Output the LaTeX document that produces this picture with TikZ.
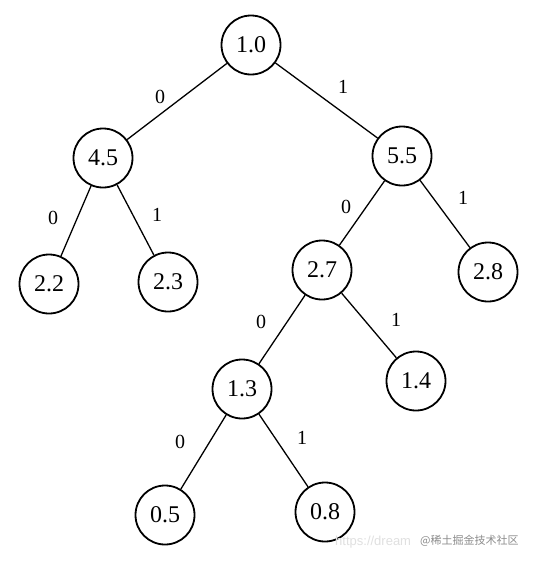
\documentclass[tikz,border=0pt]{standalone}
\usepackage{fontspec}
\setmainfont{Liberation Serif}
\newfontfamily\cjk{Noto Sans CJK SC}
\newfontfamily\wsans{Liberation Sans}
\begin{document}
\begin{tikzpicture}[x=1pt,y=-1pt,
  tnode/.style={circle,draw,line width=1.8pt,minimum size=59pt,inner sep=0pt,font=\fontsize{24}{26}\selectfont},
  edge/.style={line width=1.3pt},
  elab/.style={font=\fontsize{20}{22}\selectfont,inner sep=0pt}]
\useasboundingbox (0,0) rectangle (534,562);
\fill[white] (0,0) rectangle (534,562);
\node[tnode] (n10) at (251,45) {1.0};
\node[tnode] (n45) at (103,158) {4.5};
\node[tnode] (n55) at (402,156) {5.5};
\node[tnode] (n22) at (49,284) {2.2};
\node[tnode] (n23) at (168,282) {2.3};
\node[tnode] (n27) at (322,270) {2.7};
\node[tnode] (n28) at (488,272) {2.8};
\node[tnode] (n13) at (242,389) {1.3};
\node[tnode] (n14) at (416,381) {1.4};
\node[tnode] (n05) at (165,515) {0.5};
\node[tnode] (n08) at (325,512) {0.8};
\draw[edge] (n10) -- (n45);
\draw[edge] (n10) -- (n55);
\draw[edge] (n45) -- (n22);
\draw[edge] (n45) -- (n23);
\draw[edge] (n55) -- (n27);
\draw[edge] (n55) -- (n28);
\draw[edge] (n27) -- (n13);
\draw[edge] (n27) -- (n14);
\draw[edge] (n13) -- (n05);
\draw[edge] (n13) -- (n08);
\node[elab] (l1) at (160,97) {0};
\node[elab] (l2) at (343,87) {1};
\node[elab] (l3) at (53,218) {0};
\node[elab] (l4) at (157,215) {1};
\node[elab] (l5) at (346,207) {0};
\node[elab] (l6) at (463,198) {1};
\node[elab] (l7) at (261,322) {0};
\node[elab] (l8) at (396,320) {1};
\node[elab] (l9) at (180,442) {0};
\node[elab] (l10) at (302,438) {1};
\node[anchor=west,text=black!12,font=\wsans\fontsize{13}{14}\selectfont,inner sep=0pt] (url) at (335,542) {https://dream};
\node[anchor=west,text=black!45,font=\cjk\fontsize{11}{12}\selectfont,inner sep=0pt] (wm) at (420,541) {@稀土掘金技术社区};
\end{tikzpicture}
\end{document}
